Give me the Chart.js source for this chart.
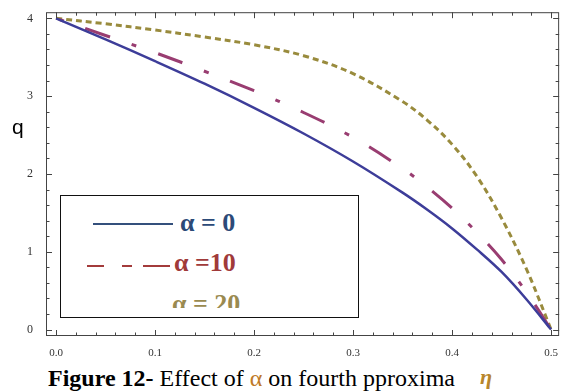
<!DOCTYPE html>
<html>
<head>
<meta charset="utf-8">
<script src="https://cdn.jsdelivr.net/npm/chart.js@4.4.1/dist/chart.umd.min.js"></script>
<style>
  html, body { margin: 0; padding: 0; background: #fff; }
  #page { position: relative; width: 561px; height: 392px; overflow: hidden; font-family: "Liberation Serif", "Times New Roman", serif; }
  #plot { position: absolute; left: 0; top: 0; width: 561px; height: 362px; }
  .abs { position: absolute; white-space: nowrap; }
  #ylab { left: 12px; top: 116px; font: 21px "Liberation Sans", Arial, sans-serif; line-height: 21px; }
  #legend { left: 60px; top: 195px; width: 297px; height: 121px; border: 1px solid #111; background: #fff; }
  .leg { font-weight: bold; font-size: 26px; line-height: 24px; }
  #caption { left: 48px; top: 366px; font-size: 24px; line-height: 24px; color: #000; }
</style>
</head>
<body>
<div id="page">
  <div id="plot"><canvas id="chart" width="561" height="362"></canvas></div>
  <div class="abs" id="ylab">q</div>

  <div class="abs" id="legend"></div>
  <div class="abs" style="left:93px; top:223px; width:80px; height:2px; background:#34507c;"></div>
  <div class="abs leg" style="left:180px; top:211px; color:#2c4a78;">α = 0</div>
  <div class="abs" style="left:87px; top:265px; width:17px; height:2px; background:#a33b3b;"></div>
  <div class="abs" style="left:122px; top:265px; width:10px; height:2px; background:#a33b3b;"></div>
  <div class="abs" style="left:143px; top:265px; width:27px; height:2px; background:#a33b3b;"></div>
  <div class="abs leg" style="left:174px; top:251px; color:#a03a3a;">α =10</div>
  <div class="abs" style="left:160px; top:290px; width:120px; height:18px; overflow:hidden;">
    <div class="abs leg" style="left:12px; top:2px; color:#9a8a50;">α = 20</div>
  </div>

  <div class="abs" id="caption"><b>Figure 12-</b> Effect of <span style="color:#c07a28;">α</span> on fourth pproxima<span style="position:absolute; left:432px; top:-1px; font-size:22px; font-style:italic; font-weight:bold; color:#b8862b;">η</span></div>
</div>

<script>
const eta = [0, 0.05, 0.1, 0.15, 0.2, 0.25, 0.3, 0.35, 0.375, 0.4, 0.425, 0.45, 0.475, 0.5];

// q for alpha = 0, 10, 20
const qAlpha0  = [4, 3.73, 3.45, 3.16, 2.85, 2.52, 2.16, 1.76, 1.54, 1.30, 1.03, 0.74, 0.39, 0];
const qAlpha10 = [4, 3.78, 3.56, 3.32, 3.07, 2.79, 2.47, 2.07, 1.83, 1.56, 1.25, 0.90, 0.48, 0];
const qAlpha20 = [4, 3.93, 3.85, 3.76, 3.66, 3.52, 3.29, 2.93, 2.69, 2.38, 1.97, 1.43, 0.78, 0];

// tick labels
const xTicks = [0, 0.1, 0.2, 0.3, 0.4, 0.5];
const yTicks = [0, 1, 2, 3, 4];

const colors = {
    blue: "#3d3d99",
    magenta: "#993d71",
    gold: "#998b3d",
    frame: "#444",
};

const toPoints = (ys) => eta.map((x, i) => ({ x: x, y: ys[i] }));

// Mathematica style frame with inward ticks on all four sides
const frameTicks = {
    id: "frameTicks",
    afterDraw(chart) {
        const { ctx, chartArea: a, scales } = chart;
        const xs = scales.x, ys = scales.y;
        ctx.save();
        ctx.strokeStyle = colors.frame;
        ctx.lineWidth = 1;
        ctx.strokeRect(a.left + 0.5, a.top + 0.5, a.right - a.left - 1, a.bottom - a.top - 1);
        ctx.beginPath();
        for (let i = 0; i <= 25; i++) {
            const v = i * 0.02;
            const px = Math.round(xs.getPixelForValue(v)) + 0.5;
            const len = i % 5 === 0 ? 6 : 3.5;
            ctx.moveTo(px, a.bottom); ctx.lineTo(px, a.bottom - len);
            ctx.moveTo(px, a.top); ctx.lineTo(px, a.top + len);
        }
        for (let i = 0; i <= 20; i++) {
            const v = i * 0.2;
            const py = Math.round(ys.getPixelForValue(v)) + 0.5;
            const len = i % 5 === 0 ? 6 : 3.5;
            ctx.moveTo(a.left, py); ctx.lineTo(a.left + len, py);
            ctx.moveTo(a.right, py); ctx.lineTo(a.right - len, py);
        }
        ctx.stroke();
        ctx.restore();
    },
};

new Chart(document.getElementById("chart"), {
    type: "scatter",
    data: {
        datasets: [
            {
                label: "α = 0",
                data: toPoints(qAlpha0),
                borderColor: colors.blue,
                borderWidth: 2.5,
            },
            {
                label: "α = 10",
                data: toPoints(qAlpha10),
                borderColor: colors.magenta,
                borderWidth: 3,
                borderDash: [26, 23, 5, 23],
                borderDashOffset: 46,
            },
            {
                label: "α = 20",
                data: toPoints(qAlpha20),
                borderColor: colors.gold,
                borderWidth: 3,
                borderDash: [6, 4],
            },
        ],
    },
    options: {
        responsive: false,
        animation: false,
        showLine: true,
        elements: {
            point: { radius: 0 },
            line: { tension: 0.35, fill: false },
        },
        layout: { padding: { left: 0, top: 9, right: 1, bottom: 0 } },
        plugins: {
            legend: { display: false },
            tooltip: { enabled: false },
        },
        scales: {
            x: {
                type: "linear",
                min: -0.0101,
                max: 0.5081,
                grid: { display: false },
                border: { display: false },
                afterBuildTicks: (scale) => { scale.ticks = xTicks.map((v) => ({ value: v })); },
                afterFit: (scale) => { scale.height = 26; },
                ticks: {
                    padding: 3,
                    color: "#333",
                    font: { family: "Liberation Serif", size: 11 },
                    callback: (v) => v.toFixed(1),
                },
            },
            y: {
                type: "linear",
                min: -0.083,
                max: 4.079,
                grid: { display: false },
                border: { display: false },
                afterBuildTicks: (scale) => { scale.ticks = yTicks.map((v) => ({ value: v })); },
                afterFit: (scale) => { scale.width = 46; },
                ticks: {
                    padding: 5,
                    color: "#333",
                    font: { family: "Liberation Serif", size: 12 },
                    callback: (v) => String(v),
                },
            },
        },
    },
    plugins: [frameTicks],
});
</script>
</body>
</html>
